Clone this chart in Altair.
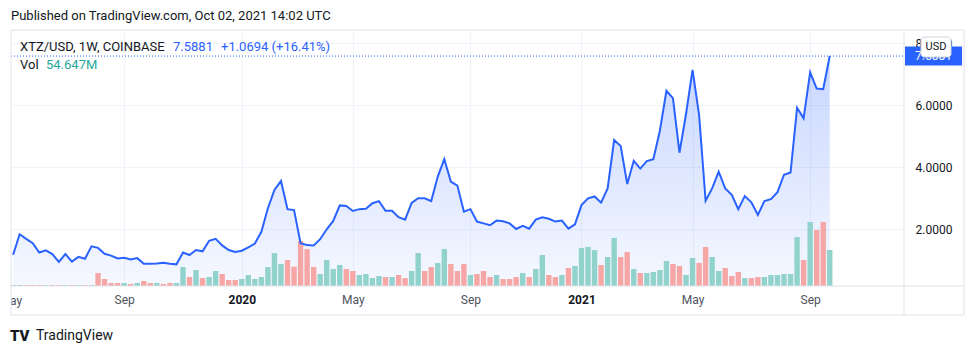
import altair as alt
import pandas as pd

# ---------------- data ----------------
week_start = "2019-05-06"   # first weekly bar (partly outside the left edge)

close = [
    1.18, 1.84, 1.69, 1.55, 1.25, 1.32, 1.20, 0.95, 1.20, 0.96, 1.11, 1.05, 1.45,
    1.40, 1.21, 1.15, 1.06, 1.08, 1.03, 1.07, 0.89, 0.89, 0.90, 0.92, 0.89, 0.87,
    1.25, 1.17, 1.33, 1.29, 1.63, 1.69, 1.48, 1.33, 1.27, 1.31, 1.42, 1.54, 1.92,
    2.68, 3.27, 3.56, 2.65, 2.62, 1.55, 1.49, 1.48, 1.68, 2.00, 2.27, 2.77, 2.75,
    2.59, 2.65, 2.66, 2.84, 2.91, 2.60, 2.60, 2.39, 2.31, 2.85, 3.00, 3.00, 2.91,
    3.70, 4.26, 3.54, 3.41, 2.57, 2.65, 2.25, 2.19, 2.13, 2.28, 2.26, 2.19, 2.01,
    2.11, 2.02, 2.31, 2.39, 2.34, 2.25, 2.28, 2.02, 2.16, 2.78, 3.00, 3.06, 2.86,
    3.32, 4.88, 4.69, 3.46, 4.21, 3.96, 4.20, 4.26, 5.18, 6.47, 6.23, 4.47, 5.72,
    7.14, 5.69, 2.92, 3.32, 3.86, 3.32, 3.11, 2.65, 3.07, 2.87, 2.46, 2.91, 2.97,
    3.20, 3.76, 3.83, 5.92, 5.58, 7.06, 6.54, 6.52, 7.5881,
]

volume_m = [
    1.5, 1.5, 1.5, 1.5, 1.5, 1.5, 1.5, 1.5, 1.5, 1.5, 1.5, 1.5, 1.5,
    19.7, 10.6, 4.5, 4.5, 4.5, 3.0, 4.5, 7.6, 4.5, 4.5, 3.0, 4.5, 4.5,
    28.8, 13.7, 24.3, 12.1, 13.7, 22.8, 18.2, 9.1, 9.1, 10.6, 16.7, 10.6, 13.7,
    28.8, 50.1, 33.4, 39.5, 29.4, 68.3, 56.2, 28.8, 18.2, 39.5, 25.8, 31.9, 25.8,
    22.8, 16.7, 18.2, 12.1, 15.2, 13.7, 13.7, 16.7, 12.1, 22.8, 50.1, 22.8, 28.8,
    34.9, 56.2, 33.4, 22.8, 33.4, 16.7, 18.2, 22.8, 13.7, 16.7, 10.6, 10.6, 13.7,
    19.7, 13.7, 25.8, 47.1, 16.7, 13.7, 16.7, 27.3, 30.4, 57.7, 59.2, 54.6, 31.9,
    44.0, 72.9, 44.0, 51.6, 25.8, 19.7, 19.7, 21.3, 24.3, 38.0, 33.4, 30.4, 16.7,
    42.5, 34.9, 59.2, 44.0, 22.8, 27.3, 15.2, 21.3, 12.1, 12.1, 13.7, 13.7, 16.7,
    16.7, 18.2, 18.2, 74.4, 39.5, 97.2, 85.0, 97.2, 54.647,
]

direction = (
    "u u d d d u d d u d u d u "
    "d d d d u d u d d u d d u "
    "u d u d u u d d d u u u u "
    "u u u d d d d d u u u u d "
    "d u u u u d u d d u u d d "
    "u u d d d u d d d u d d d "
    "u d u u d d u d u u u u d "
    "u u d d u d u u u u d d u "
    "u d d u u d d d u d d u u "
    "u u u u d u d d u"
).split()

tick_dates = ["2019-09-02", "2020-01-06", "2020-05-04", "2020-09-07",
              "2021-01-04", "2021-05-03", "2021-09-06"]
price_ticks = [2, 4, 6, 8]

symbol_text = "XTZ/USD, 1W, COINBASE"
last_text = "7.5881"
change_text = "+1.0694 (+16.41%)"
vol_text = "54.647M"

dates = pd.date_range(week_start, periods=len(close), freq="7D").strftime("%Y-%m-%d")
df = pd.DataFrame({"date": dates, "close": close, "vol": volume_m, "dir": direction})
df_last = pd.DataFrame({"close": [close[-1]], "label": [last_text]})
one = pd.DataFrame({"a": [0]})

# ---------------- styling ----------------
FONT = "Roboto"
BLUE = "#2962ff"
GRID = "#f0f3fa"
FRAME = "#e0e3eb"
W, H = 893, 256


def dt(s, h=0):
    y, m, d = (int(v) for v in s.split("-"))
    return alt.DateTime(year=y, month=m, date=d, hours=h, utc=True)


xsc = alt.Scale(type="utc", domain=[dt("2019-05-09", 2), dt("2021-12-10", 5)])
ysc = alt.Scale(domain=[0.171, 8.429], nice=False, zero=False)
vsc = alt.Scale(domain=[0, 388.6], nice=False)

x_axis = alt.Axis(
    values=[dt(s) for s in tick_dates],
    labelExpr="utcmonth(datum.value) == 0 ? utcFormat(datum.value, '%Y') : utcFormat(datum.value, '%b')",
    grid=True, gridColor=GRID, domain=False, ticks=False,
    labelPadding=8, labelFontSize=12, labelFont=FONT,
    labelColor={"condition": {"test": "utcmonth(datum.value) == 0", "value": "#131722"}, "value": "#50535e"},
    labelFontWeight={"condition": {"test": "utcmonth(datum.value) == 0", "value": "bold"}, "value": "normal"},
    labelOverlap=False, labelFlush=False, title=None,
)
y_axis = alt.Axis(
    orient="right", values=price_ticks, format=".4f", grid=True, gridColor=GRID,
    domain=False, ticks=False, labelPadding=11, labelFontSize=12, labelFont=FONT,
    labelColor="#131722", title=None,
)

X = alt.X("date:T", scale=xsc, axis=x_axis)

gradient = alt.Gradient(
    gradient="linear",
    stops=[alt.GradientStop(color="rgba(41,98,255,0.26)", offset=0),
           alt.GradientStop(color="rgba(41,98,255,0.04)", offset=1)],
    x1=1, x2=1, y1=0, y2=1,
)

area = alt.Chart(df).mark_area(clip=True, color=gradient).encode(
    x=X, y=alt.Y("close:Q", scale=ysc, axis=y_axis), y2=alt.value(H)
)
bars = alt.Chart(df).mark_bar(clip=True, size=5.4).encode(
    x=X,
    y=alt.Y("vol:Q", scale=vsc, axis=None),
    color=alt.Color("dir:N", scale=alt.Scale(domain=["u", "d"], range=["#92d2cc", "#f6a7a5"]), legend=None),
)
line = alt.Chart(df).mark_line(clip=True, color=BLUE, strokeWidth=2).encode(
    x=X, y=alt.Y("close:Q", scale=ysc, axis=None)
)
last_rule = alt.Chart(df_last).mark_rule(color=BLUE, strokeWidth=1, strokeDash=[1, 2]).encode(
    y=alt.Y("close:Q", scale=ysc, axis=None), x=alt.value(0), x2=alt.value(W)
)
last_box = alt.Chart(df_last).mark_rule(color=BLUE, strokeWidth=19).encode(
    y=alt.Y("close:Q", scale=ysc, axis=None), x=alt.value(W + 1), x2=alt.value(W + 58)
)
last_lbl = alt.Chart(df_last).mark_text(color="white", align="left", baseline="middle",
                                         font=FONT, fontSize=12).encode(
    y=alt.Y("close:Q", scale=ysc, axis=None), x=alt.value(W + 11), text="label:N"
)
usd_box = alt.Chart(one).mark_rect(fill="white", stroke="#d1d4dc", strokeWidth=1, cornerRadius=3).encode(
    x=alt.value(W + 17), x2=alt.value(W + 47), y=alt.value(7), y2=alt.value(27)
)
usd_lbl = alt.Chart(one).mark_text(text="USD", color="#131722", font=FONT, fontSize=11,
                                   align="center", baseline="middle").encode(
    x=alt.value(W + 32), y=alt.value(17)
)


def rule(x, x2, y, y2):
    return alt.Chart(one).mark_rule(color=FRAME, strokeWidth=1).encode(
        x=alt.value(x), x2=alt.value(x2), y=alt.value(y), y2=alt.value(y2)
    )


def txt(text, x, y, color, size=13, weight="normal", align="left"):
    return alt.Chart(one).mark_text(text=text, color=color, font=FONT, fontSize=size,
                                    fontWeight=weight, align=align, baseline="middle").encode(
        x=alt.value(x), y=alt.value(y)
    )


# clipped "May" label at the far left
may_lbl = txt("May", -11.5, 271, "#50535e", size=12)
mask = alt.Chart(one).mark_rect(fill="white").encode(
    x=alt.value(-11), x2=alt.value(0), y=alt.value(H + 1), y2=alt.value(H + 30)
)

frame = [
    rule(0, W + 60, 0, 0),
    rule(0, W + 60, H, H),
    rule(0, W + 60, H + 29, H + 29),
    rule(0, 0, 0, H + 29),
    rule(W, W, 0, H + 29),
    rule(W + 60, W + 60, 0, H + 29),
]

texts = [
    txt("Published on TradingView.com, Oct 02, 2021 14:02 UTC", 0, -14, "#131722", size=13),
    txt(symbol_text, 9, 17, "#131722", size=13),
    txt(last_text, 162, 17, BLUE, size=13),
    txt(change_text, 210, 17, BLUE, size=13),
    txt("Vol", 9, 35, "#131722", size=13),
    txt(vol_text, 35, 35, "#26a69a", size=13),
    txt("TV", -1, 306, "#131722", size=15, weight=900),
    txt("TradingView", 25, 306, "#131722", size=14),
]

chart = alt.layer(
    area, bars, line, last_rule, may_lbl, mask, *frame, last_box, last_lbl, usd_box, usd_lbl, *texts
).resolve_scale(y="independent").properties(
    width=W, height=H,
    padding={"left": 11, "top": 30, "right": 72, "bottom": 69},
    autosize=alt.AutoSizeParams(type="none"),
    background="white",
).configure_view(strokeWidth=0)

chart.save("out.html", embed_options={"renderer": "svg", "actions": False})
